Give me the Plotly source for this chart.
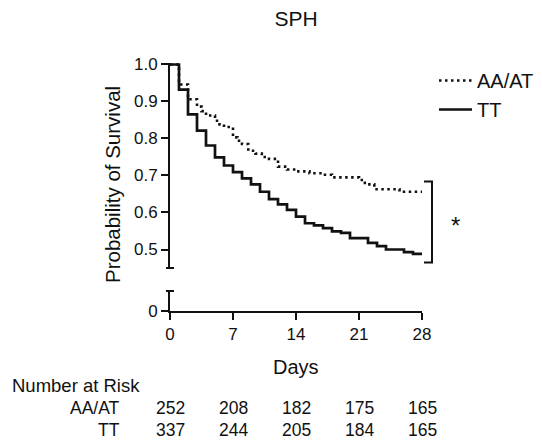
import plotly.graph_objects as go

# ---- data ----
tt_days = [0, 1, 2, 3, 4, 5, 6, 7, 8, 9, 10, 11, 12, 13, 14, 15, 16, 17, 18, 19, 20,
           22, 23, 24, 26, 27, 28]
tt_surv = [1.0, 0.932, 0.865, 0.821, 0.781, 0.749, 0.727, 0.709, 0.692, 0.676, 0.656,
           0.636, 0.622, 0.607, 0.589, 0.571, 0.565, 0.558, 0.549, 0.545, 0.531,
           0.518, 0.509, 0.500, 0.493, 0.488, 0.488]

aa_days = [0, 1, 2, 3, 3.5, 4, 5, 5.5, 6, 7, 7.5, 8, 8.7, 9.5, 10.2, 11, 12, 13, 14,
           15.5, 17, 18, 21, 21.5, 22, 22.7, 25.5, 28]
aa_surv = [1.0, 0.946, 0.906, 0.886, 0.874, 0.862, 0.848, 0.838, 0.831, 0.803, 0.794,
           0.785, 0.767, 0.759, 0.750, 0.745, 0.724, 0.716, 0.711, 0.706, 0.702, 0.695,
           0.688, 0.680, 0.676, 0.663, 0.656, 0.656]

risk_days = [0, 7, 14, 21, 28]
risk_aa = [252, 208, 182, 175, 165]
risk_tt = [337, 244, 205, 184, 165]

upper_ticks = [0.5, 0.6, 0.7, 0.8, 0.9, 1.0]
upper_ticktext = ["0.5", "0.6", "0.7", "0.8", "0.9", "1.0"]

FONT = "Liberation Sans, Arial, sans-serif"
BLACK = "#111111"

# page offset (browser default body margin)
OFF = 8
W, H = 542 - OFF, 441 - OFF


def px(v):
    """reference pixel -> figure pixel"""
    return v - OFF


L, R = px(170), W - px(422)
T, B = px(63), H - px(311)
ph = H - T - B
pw = W - L - R


def xp(v):
    return (px(v) - L) / pw


def yp(v):
    return (H - B - px(v)) / ph


fig = go.Figure()
fig.add_trace(go.Scatter(x=aa_days, y=aa_surv, mode="lines", name="AA/AT",
                         line=dict(shape="hv", color=BLACK, width=2.6, dash="2.5px,3.5px"),
                         xaxis="x", yaxis="y2"))
fig.add_trace(go.Scatter(x=tt_days, y=tt_surv, mode="lines", name="TT",
                         line=dict(shape="hv", color=BLACK, width=2.7),
                         xaxis="x", yaxis="y2"))
# empty trace so that the lower (broken) axis panel exists
fig.add_trace(go.Scatter(x=[None], y=[None], mode="lines", showlegend=False,
                         hoverinfo="skip", xaxis="x", yaxis="y"))

up_bottom = yp(268)
low_top = yp(291)

axis_common = dict(showline=True, linewidth=2, linecolor=BLACK, ticks="outside",
                   ticklen=7, tickwidth=2, tickcolor=BLACK, showgrid=False,
                   zeroline=False, tickfont=dict(family=FONT, size=17, color=BLACK))

fig.update_layout(
    width=W, height=H,
    margin=dict(l=L, r=R, t=T, b=B, autoexpand=False),
    plot_bgcolor="white", paper_bgcolor="white",
    font=dict(family=FONT, color=BLACK),
    title=dict(text="SPH", x=(L + pw / 2) / W, xanchor="center",
               y=1 - px(19) / H, yanchor="middle",
               font=dict(family=FONT, size=21, color=BLACK)),
    xaxis=dict(domain=[0, 1], range=[0, 28], anchor="y",
               tickvals=risk_days, **axis_common),
    yaxis=dict(domain=[0, low_top], range=[0, 0.056], anchor="x",
               tickvals=[0], ticktext=["0"], **axis_common),
    yaxis2=dict(domain=[up_bottom, 1], range=[0.45, 1.004], anchor="x",
                tickvals=upper_ticks, ticktext=upper_ticktext, **axis_common),
    showlegend=True,
    legend=dict(x=xp(434), xanchor="left", y=yp(61), yanchor="top",
                font=dict(family=FONT, size=20, color=BLACK),
                bgcolor="rgba(0,0,0,0)", itemwidth=33, tracegroupgap=0),
)

shapes = []
# axis break caps
for yref, yv in (("y2 domain", 0), ("y domain", 1)):
    shapes.append(dict(type="line", xref="paper", yref=yref,
                       x0=-4 / pw, x1=4 / pw, y0=yv, y1=yv,
                       line=dict(color=BLACK, width=2)))
# significance bracket
br_top = aa_surv[-1] + 0.028
br_bot = tt_surv[-1] - 0.023
bx = xp(432)
bx0 = xp(424)
shapes.append(dict(type="path", xref="paper", yref="y2",
                   path=f"M {bx0},{br_top} L {bx},{br_top} L {bx},{br_bot} L {bx0},{br_bot}",
                   line=dict(color=BLACK, width=2)))
fig.update_layout(shapes=shapes)

ann = []
ann.append(dict(text="*", xref="paper", yref="y2", x=xp(462),
                y=(br_top + br_bot) / 2, showarrow=False, yshift=-4,
                font=dict(family=FONT, size=24, color=BLACK)))
ann.append(dict(text="Probability of Survival", xref="paper", yref="paper",
                x=xp(112), y=yp(185), textangle=-90,
                xanchor="center", yanchor="middle", showarrow=False,
                font=dict(family=FONT, size=20.5, color=BLACK)))
ann.append(dict(text="Days", xref="paper", yref="paper", x=0.5,
                y=yp(367), xanchor="center", yanchor="middle",
                showarrow=False, font=dict(family=FONT, size=20, color=BLACK)))
ann.append(dict(text="Number at Risk", xref="paper", yref="paper",
                x=xp(10), y=yp(385), xanchor="left",
                yanchor="middle", showarrow=False,
                font=dict(family=FONT, size=18.5, color=BLACK)))
for label, vals, ypix in (("AA/AT", risk_aa, 408), ("TT", risk_tt, 430)):
    yy = yp(ypix)
    ann.append(dict(text=label, xref="paper", yref="paper", x=xp(122),
                    y=yy, xanchor="right", yanchor="middle", showarrow=False,
                    font=dict(family=FONT, size=17.5, color=BLACK)))
    for d, v in zip(risk_days, vals):
        ann.append(dict(text=str(v), xref="x", yref="paper", x=d, y=yy,
                        xanchor="center", yanchor="middle", showarrow=False,
                        font=dict(family=FONT, size=17.5, color=BLACK)))
fig.update_layout(annotations=ann)

fig.write_html("out.html")
